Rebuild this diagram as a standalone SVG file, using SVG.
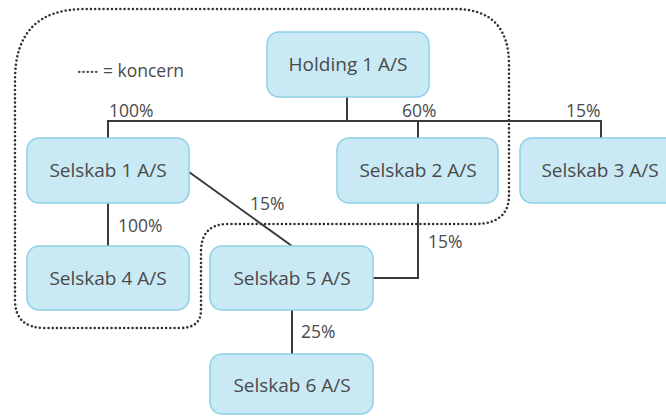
<svg xmlns="http://www.w3.org/2000/svg" width="666" height="417" viewBox="0 0 666 417">
<style>
.box{fill:#c9e9f5;stroke:#8fd0e8;stroke-width:1.5}
.t{font-family:"Open Sans","Liberation Sans",sans-serif;font-size:19px;fill:#4a4a4a;text-anchor:middle}
.l{font-family:"Open Sans","Liberation Sans",sans-serif;font-size:17.5px;fill:#4a4a4a}
.c{fill:none;stroke:#3a3a3a;stroke-width:2}
.dot{fill:none;stroke:#333;stroke-width:2.6;stroke-dasharray:0 4.2;stroke-linecap:round}
</style>
<rect width="666" height="417" fill="#fff"/>
<path class="dot" d="M15,300 V80 Q15,9 85,9 H455 Q509,9 509,65 V195 Q509,224 475,224 H228 Q201,224 201,252 V310 Q201,328 180,328 H45 Q15,328 15,300 Z"/>
<g id="connectors">
<path class="c" d="M347,97 V121 M108,138 V121 H601 V138 M418,121 V138"/>
<path class="c" d="M189,172 L292,246"/>
<path class="c" d="M108,203 V246"/>
<path class="c" d="M418,203 V278 H373"/>
<path class="c" d="M292,310 V354"/>
</g>
<g id="labels">
<text class="l" x="109" y="117">100%</text>
<text class="l" x="402" y="117">60%</text>
<text class="l" x="566" y="117">15%</text>
<text class="l" x="250" y="210">15%</text>
<text class="l" x="118" y="232">100%</text>
<text class="l" x="428" y="248">15%</text>
<text class="l" x="301" y="338">25%</text>
<text class="l" x="77" y="77"><tspan font-size="15" font-weight="bold">·····</tspan> = koncern</text>
</g>
<g id="holding"><rect class="box" x="267" y="32" width="162" height="65" rx="12"/><text class="t" x="348" y="71">Holding 1 A/S</text></g>
<g id="s1"><rect class="box" x="27" y="138" width="162" height="65" rx="12"/><text class="t" x="108" y="177">Selskab 1 A/S</text></g>
<g id="s2"><rect class="box" x="337" y="138" width="161" height="65" rx="12"/><text class="t" x="418" y="177">Selskab 2 A/S</text></g>
<g id="s3"><rect class="box" x="520" y="138" width="160" height="65" rx="12"/><text class="t" x="600" y="177">Selskab 3 A/S</text></g>
<g id="s4"><rect class="box" x="27" y="246" width="162" height="64" rx="12"/><text class="t" x="108" y="285">Selskab 4 A/S</text></g>
<g id="s5"><rect class="box" x="210" y="246" width="163" height="64" rx="12"/><text class="t" x="292" y="285">Selskab 5 A/S</text></g>
<g id="s6"><rect class="box" x="210" y="354" width="163" height="60" rx="12"/><text class="t" x="292" y="392">Selskab 6 A/S</text></g>
</svg>
